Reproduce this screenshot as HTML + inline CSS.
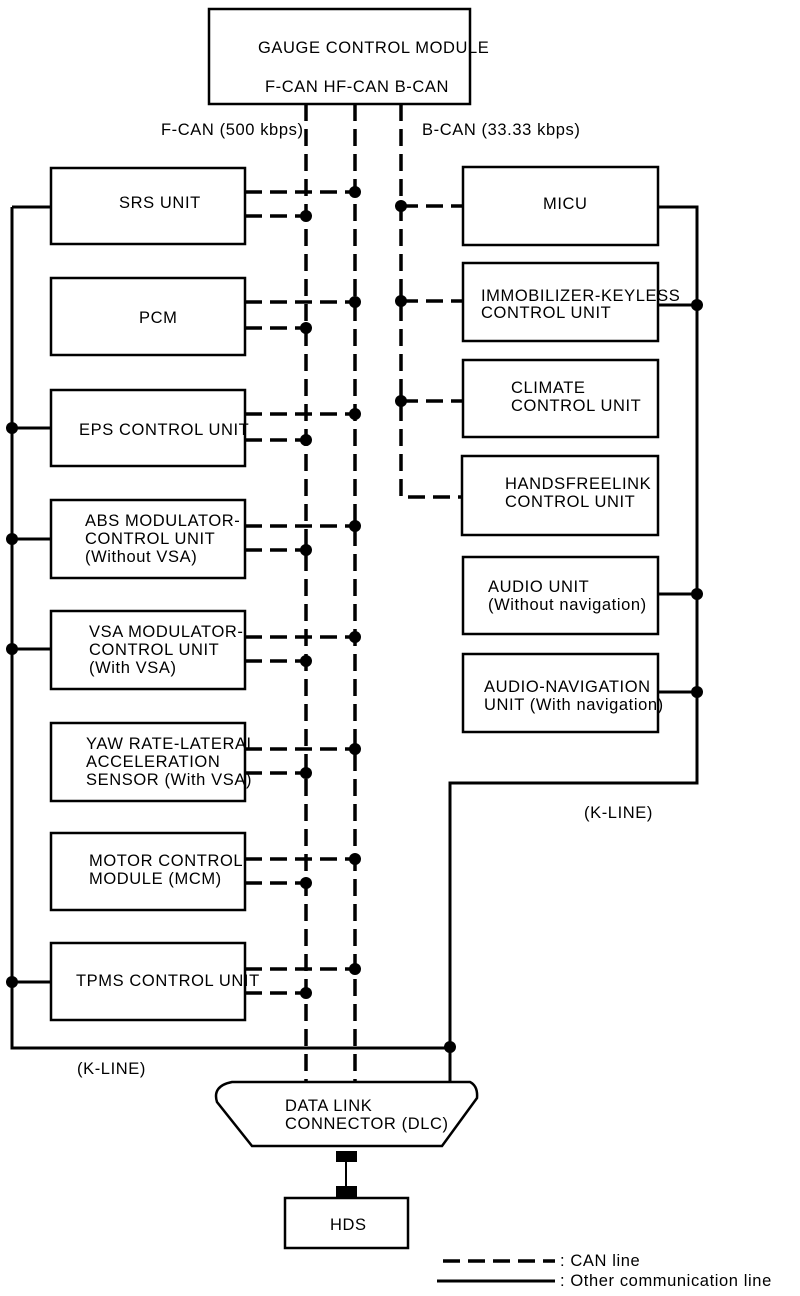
<!DOCTYPE html>
<html><head><meta charset="utf-8"><style>
html,body{margin:0;padding:0;background:#fff}
svg{display:block}
text{font-family:"Liberation Sans",Arial,sans-serif;font-size:16.5px;letter-spacing:0.6px;fill:#000}
</style></head><body>
<svg width="800" height="1296" viewBox="0 0 800 1296" xmlns="http://www.w3.org/2000/svg">
<g fill="none" stroke="#000" stroke-width="2.5">
<rect x="209" y="9" width="261" height="95"/>
<rect x="51" y="168" width="194" height="76"/>
<rect x="51" y="278" width="194" height="77"/>
<rect x="51" y="390" width="194" height="76"/>
<rect x="51" y="500" width="194" height="78"/>
<rect x="51" y="611" width="194" height="78"/>
<rect x="51" y="723" width="194" height="78"/>
<rect x="51" y="833" width="194" height="77"/>
<rect x="51" y="943" width="194" height="77"/>
<rect x="463" y="167" width="195" height="78"/>
<rect x="463" y="263" width="195" height="78"/>
<rect x="463" y="360" width="195" height="77"/>
<rect x="462" y="456" width="196" height="79"/>
<rect x="463" y="557" width="195" height="77"/>
<rect x="463" y="654" width="195" height="78"/>
<rect x="285" y="1198" width="123" height="50"/>
<path d="M232 1082 L470 1082 Q478 1086 477 1098 L442 1146 L252 1146 L217 1102 Q212 1086 232 1082 Z"/>
</g>
<g fill="none" stroke="#000" stroke-width="3.5" stroke-dasharray="17 8">
<line x1="306" y1="104" x2="306" y2="1082"/>
<line x1="355" y1="104" x2="355" y2="1082"/>
<path d="M401 104 L401 497 L462 497"/>
<line x1="401" y1="206" x2="463" y2="206"/>
<line x1="401" y1="301" x2="463" y2="301"/>
<line x1="401" y1="401" x2="463" y2="401"/>
<line x1="245" y1="192" x2="355" y2="192"/><line x1="245" y1="216" x2="306" y2="216"/>
<line x1="245" y1="302" x2="355" y2="302"/><line x1="245" y1="328" x2="306" y2="328"/>
<line x1="245" y1="414" x2="355" y2="414"/><line x1="245" y1="440" x2="306" y2="440"/>
<line x1="245" y1="526" x2="355" y2="526"/><line x1="245" y1="550" x2="306" y2="550"/>
<line x1="245" y1="637" x2="355" y2="637"/><line x1="245" y1="661" x2="306" y2="661"/>
<line x1="245" y1="749" x2="355" y2="749"/><line x1="245" y1="773" x2="306" y2="773"/>
<line x1="245" y1="859" x2="355" y2="859"/><line x1="245" y1="883" x2="306" y2="883"/>
<line x1="245" y1="969" x2="355" y2="969"/><line x1="245" y1="993" x2="306" y2="993"/>
<line x1="443" y1="1261" x2="555" y2="1261"/>
</g>
<g fill="none" stroke="#000" stroke-width="3">
<path d="M12 207 L12 1048 L450 1048"/>
<line x1="12" y1="207" x2="51" y2="207"/>
<line x1="12" y1="428" x2="51" y2="428"/>
<line x1="12" y1="539" x2="51" y2="539"/>
<line x1="12" y1="649" x2="51" y2="649"/>
<line x1="12" y1="982" x2="51" y2="982"/>
<path d="M450 1082 L450 783 L697 783 L697 207 L658 207"/>
<line x1="658" y1="305" x2="697" y2="305"/>
<line x1="658" y1="594" x2="697" y2="594"/>
<line x1="658" y1="692" x2="697" y2="692"/>
<line x1="437" y1="1281" x2="555" y2="1281"/>
<line x1="346" y1="1160" x2="346" y2="1190" stroke-width="2"/>
</g>
<g fill="#000">
<rect x="336" y="1151" width="21" height="11"/>
<rect x="336" y="1186" width="21" height="12"/>
<circle cx="355" cy="192" r="6"/><circle cx="306" cy="216" r="6"/>
<circle cx="355" cy="302" r="6"/><circle cx="306" cy="328" r="6"/>
<circle cx="355" cy="414" r="6"/><circle cx="306" cy="440" r="6"/>
<circle cx="355" cy="526" r="6"/><circle cx="306" cy="550" r="6"/>
<circle cx="355" cy="637" r="6"/><circle cx="306" cy="661" r="6"/>
<circle cx="355" cy="749" r="6"/><circle cx="306" cy="773" r="6"/>
<circle cx="355" cy="859" r="6"/><circle cx="306" cy="883" r="6"/>
<circle cx="355" cy="969" r="6"/><circle cx="306" cy="993" r="6"/>
<circle cx="401" cy="206" r="6"/><circle cx="401" cy="301" r="6"/><circle cx="401" cy="401" r="6"/>
<circle cx="12" cy="428" r="6"/><circle cx="12" cy="539" r="6"/><circle cx="12" cy="649" r="6"/><circle cx="12" cy="982" r="6"/>
<circle cx="450" cy="1047" r="6"/>
<circle cx="697" cy="305" r="6"/><circle cx="697" cy="594" r="6"/><circle cx="697" cy="692" r="6"/>
</g>
<text x="258" y="53">GAUGE CONTROL MODULE</text>
<text x="265" y="92">F-CAN HF-CAN B-CAN</text>
<text x="161" y="135">F-CAN (500 kbps)</text>
<text x="422" y="135">B-CAN (33.33 kbps)</text>
<text x="119" y="208">SRS UNIT</text>
<text x="139" y="323">PCM</text>
<text x="79" y="435">EPS CONTROL UNIT</text>
<text x="85" y="526">ABS MODULATOR-</text><text x="85" y="544">CONTROL UNIT</text><text x="85" y="562">(Without VSA)</text>
<text x="89" y="637">VSA MODULATOR-</text><text x="89" y="655">CONTROL UNIT</text><text x="89" y="673">(With VSA)</text>
<text x="86" y="749">YAW RATE-LATERAL</text><text x="86" y="767">ACCELERATION</text><text x="86" y="785">SENSOR (With VSA)</text>
<text x="89" y="866">MOTOR CONTROL</text><text x="89" y="884">MODULE (MCM)</text>
<text x="76" y="986">TPMS CONTROL UNIT</text>
<text x="543" y="209">MICU</text>
<text x="481" y="301">IMMOBILIZER-KEYLESS</text><text x="481" y="318">CONTROL UNIT</text>
<text x="511" y="393">CLIMATE</text><text x="511" y="411">CONTROL UNIT</text>
<text x="505" y="489">HANDSFREELINK</text><text x="505" y="507">CONTROL UNIT</text>
<text x="488" y="592">AUDIO UNIT</text><text x="488" y="610">(Without navigation)</text>
<text x="484" y="692">AUDIO-NAVIGATION</text><text x="484" y="710">UNIT (With navigation)</text>
<text x="584" y="818">(K-LINE)</text>
<text x="77" y="1074">(K-LINE)</text>
<text x="285" y="1111">DATA LINK</text><text x="285" y="1129">CONNECTOR (DLC)</text>
<text x="330" y="1230">HDS</text>
<text x="560" y="1266">: CAN line</text>
<text x="560" y="1286">: Other communication line</text>
</svg>
</body></html>
